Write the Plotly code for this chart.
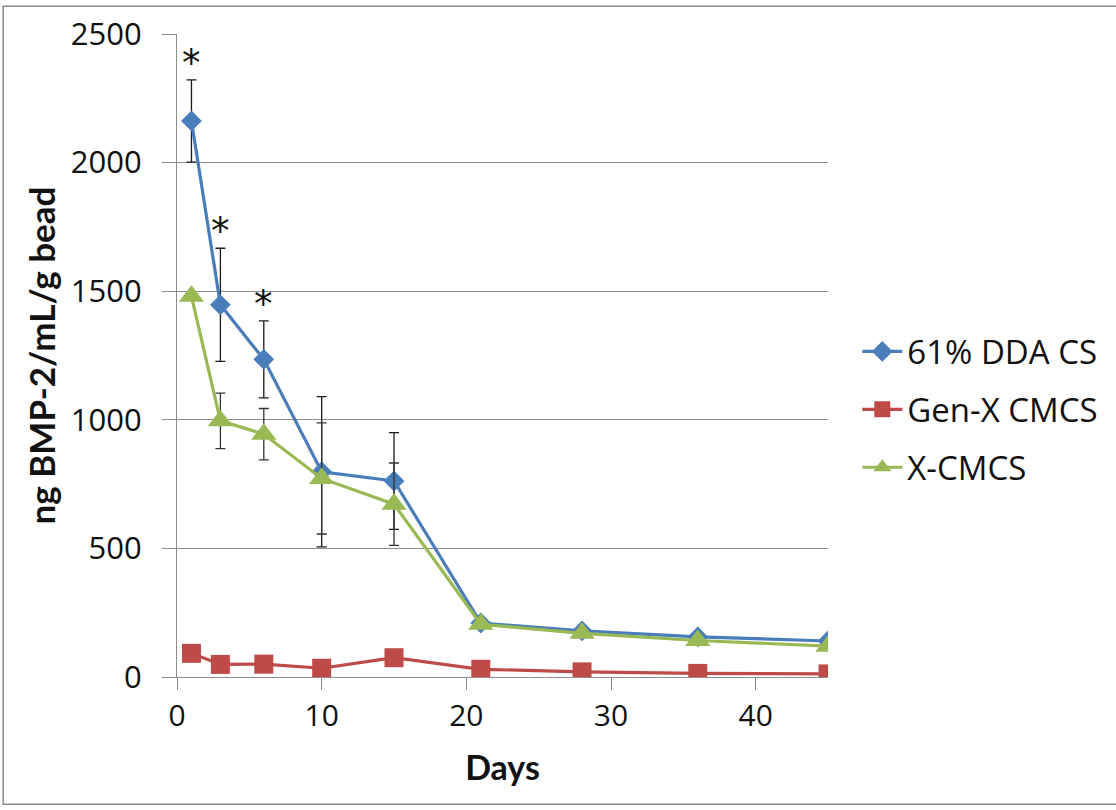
import plotly.graph_objects as go

# Release time points (days)
days = [1, 3, 6, 10, 15, 21, 28, 36, 45]

# Mean BMP-2 release (ng BMP-2/mL/g bead)
dda_cs = [2162, 1447, 1235, 798, 762, 210, 179, 156, 140]
genx_cmcs = [92, 49, 50, 34, 75, 30, 20, 14, 12]
x_cmcs = [1480, 996, 944, 772, 672, 205, 170, 142, 120]

# Error bar half-widths (None where no bar is drawn)
dda_cs_err = [160, 220, 150, 292, 188, None, None, None, None]
x_cmcs_err = [None, 108, 100, 216, 160, None, None, None, None]

# Days flagged as significant
sig_days = [1, 3, 6]

x_ticks = [0, 10, 20, 30, 40]
y_ticks = [0, 500, 1000, 1500, 2000, 2500]

BLUE = "#4A7EBB"
RED = "#BE4B48"
GREEN = "#98B954"
GRID = "#8C8C8C"

fig = go.Figure()

fig.add_trace(go.Scatter(
    x=days, y=dda_cs, name="61% DDA CS", mode="lines+markers",
    legendgroup="a",
    line=dict(color=BLUE, width=3.2),
    marker=dict(symbol="diamond", size=16, color=BLUE),
    error_y=dict(type="data", array=dda_cs_err, visible=True,
                 color="#1a1a1a", thickness=1.3, width=5),
))
fig.add_trace(go.Scatter(
    x=days, y=genx_cmcs, name="Gen-X CMCS", mode="lines+markers",
    legendgroup="b",
    line=dict(color=RED, width=3.2),
    marker=dict(symbol="square", size=19, color=RED),
))
fig.add_trace(go.Scatter(
    x=days, y=x_cmcs, name="X-CMCS", mode="lines+markers",
    legendgroup="c",
    line=dict(color=GREEN, width=3.2),
    marker=dict(symbol="triangle-up", size=22, color=GREEN),
    error_y=dict(type="data", array=x_cmcs_err, visible=True,
                 color="#333333", thickness=1.3, width=5),
))

# Significance markers above the 61% DDA CS error bars
for d in sig_days:
    i = days.index(d)
    fig.add_annotation(
        x=d, y=dda_cs[i] + dda_cs_err[i], text="*", showarrow=False,
        yanchor="bottom", yshift=-7,
        font=dict(family="DejaVu Sans", size=37, color="#111111"),
    )

# Outer chart frame
fig.add_shape(type="rect", xref="paper", yref="paper",
              x0=-0.267, x1=1.5, y0=-0.198, y1=1.043,
              line=dict(color="#8A8A8A", width=1.5), layer="below")

fig.update_layout(
    width=1116, height=810,
    margin=dict(l=177, r=288, t=31, b=133),
    paper_bgcolor="white", plot_bgcolor="white",
    font=dict(family="Open Sans", color="#111111"),
    showlegend=True,
    legend=dict(x=1.045, y=0.416, xanchor="left", yanchor="middle",
                font=dict(family="Open Sans", size=33, color="#111111"),
                traceorder="grouped",
                itemwidth=40, tracegroupgap=12, bgcolor="rgba(0,0,0,0)"),
    xaxis=dict(
        range=[0, 45], tickvals=x_ticks, showgrid=False, zeroline=False,
        showline=True, linecolor=GRID, linewidth=1.2,
        ticks="outside", ticklen=12, tickcolor=GRID, tickwidth=1.2,
        tickfont=dict(family="Open Sans", size=30, color="#111111"),
        title=dict(text="<b>Days</b>", standoff=22,
                   font=dict(family="Lato", size=34, color="#111111")),
    ),
    yaxis=dict(
        range=[0, 2500], tickvals=y_ticks, showgrid=True, gridcolor=GRID,
        gridwidth=1.2, zeroline=False,
        showline=True, linecolor=GRID, linewidth=1.2,
        ticks="outside", ticklen=14, tickcolor=GRID, tickwidth=1.2,
        ticklabelstandoff=14,
        tickfont=dict(family="Open Sans", size=31, color="#111111"),
        title=dict(text="<b>ng BMP-2/mL/g bead</b>", standoff=4,
                   font=dict(family="Lato", size=35, color="#111111")),
    ),
)

fig.write_html("out.html")
